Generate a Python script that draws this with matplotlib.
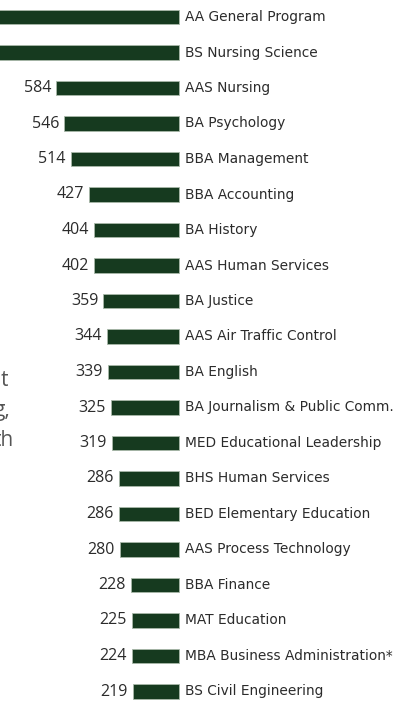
import numpy as np
import matplotlib
matplotlib.use("Agg")
from matplotlib import pyplot as plt

# programs ranked by count (top two run off the left edge of the crop)
programs = ["AA General Program", "BS Nursing Science", "AAS Nursing", "BA Psychology",
            "BBA Management", "BBA Accounting", "BA History", "AAS Human Services",
            "BA Justice", "AAS Air Traffic Control", "BA English",
            "BA Journalism & Public Comm.", "MED Educational Leadership",
            "BHS Human Services", "BED Elementary Education", "AAS Process Technology",
            "BBA Finance", "MAT Education", "MBA Business Administration*",
            "BS Civil Engineering"]
counts = [1100, 950, 584, 546, 514, 427, 404, 402, 359, 344, 339, 325, 319,
          286, 286, 280, 228, 225, 224, 219]
side_text = ["t", "g,", "th"]

bar_color = "#163a1f"
text_color = "#2b2b2b"

fig = plt.figure(figsize=(4.02, 7.04), dpi=100)
ax = fig.add_axes([0, 0, 1, 1])

px = 0.2106  # pixels per unit
ax.set_xlim(-179 / px, 223 / px)
ax.set_ylim((704 - 17) / 35.5, -17 / 35.5)

idx = np.arange(len(programs))
vals = np.array(counts)
ax.barh(idx, -vals, height=0.41, color=bar_color, edgecolor="#a9b8a9", linewidth=0.6)

for i, (name, v) in enumerate(zip(programs, counts)):
    ax.text(6 / px, i, name, ha="left", va="center", fontsize=9.9,
            color=text_color, family="DejaVu Sans")
    ax.text(-v - 5 / px, i, str(v), ha="right", va="center", fontsize=11.5,
            color=text_color, family="Open Sans")

# fragments of the paragraph cut off on the left
for j, (s, xe) in enumerate(zip(side_text, [8, 10, 14])):
    ax.text(xe / px - 179 / px, (381 - 17) / 35.5 + j * 29.5 / 35.5, s,
            ha="right", va="center", fontsize=15, color="#555555", family="Open Sans")

ax.axis("off")
fig.savefig("out.png", dpi=100)
